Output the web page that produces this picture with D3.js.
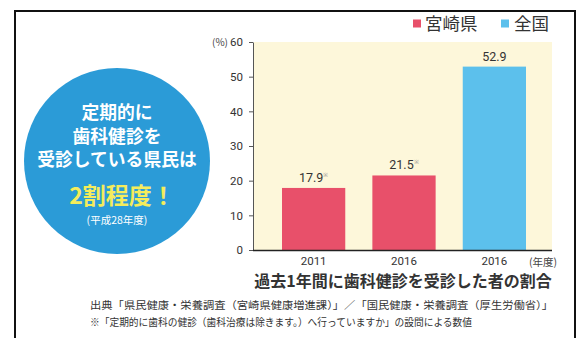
<!DOCTYPE html>
<html>
<head>
<meta charset="utf-8">
<script src="https://cdn.jsdelivr.net/npm/d3@7"></script>
<style>
  html, body { margin: 0; padding: 0; background: #fff; }
  svg { display: block; font-family: "Noto Sans CJK JP", "Noto Sans", sans-serif; }
</style>
</head>
<body>
<svg id="chart" width="576" height="338"></svg>
<script>
// Survey results: share of people who had a dental checkup in the past year
const categories = ["2011", "2016", "2016 "];
const series = ["宮崎県", "宮崎県", "全国"];
const values = [17.9, 21.5, 52.9];
const valueMarks = ["※", "※", ""];
const yTicks = [0, 10, 20, 30, 40, 50, 60];
const legendItems = ["宮崎県", "全国"];
const badgeLines = ["定期的に", "歯科健診を", "受診している県民は"];
const footnotes = [
  "出典「県民健康・栄養調査（宮崎県健康増進課）」／「国民健康・栄養調査（厚生労働省）」",
  "※「定期的に歯科の健診（歯科治療は除きます。）へ行っていますか」の設問による数値"
];

const colors = { "宮崎県": "#e8506a", "全国": "#5cc0ec" };

const svg = d3.select("#chart");

// outer frame
svg.append("path")
  .attr("d", "M15,339 L15,11 L575,11 L575,339")
  .attr("fill", "none").attr("stroke", "#111").attr("stroke-width", 2);

// scales
const x = d3.scaleBand().domain(categories).range([282, 526]).paddingInner(0.3).paddingOuter(0);
const y = d3.scaleLinear().domain([0, 60]).range([250, 42]);

// plot background
svg.append("rect")
  .attr("x", 254).attr("y", y(60))
  .attr("width", 298).attr("height", y(0) - y(60))
  .attr("fill", "#fdf7da");

// bars
svg.append("g").selectAll("rect")
  .data(values)
  .join("rect")
  .attr("x", (d, i) => x(categories[i]))
  .attr("y", d => y(d))
  .attr("width", x.bandwidth())
  .attr("height", d => y(0) - y(d))
  .attr("fill", (d, i) => colors[series[i]]);

// value labels
const vl = svg.append("g").selectAll("text")
  .data(values)
  .join("text")
  .attr("x", (d, i) => x(categories[i]) + x.bandwidth() / 2)
  .attr("y", d => y(d) - 6)
  .attr("text-anchor", "middle")
  .attr("font-size", 12.5)
  .attr("fill", "#333")
  .attr("font-family", "Roboto, 'Liberation Sans', sans-serif");
vl.append("tspan").text(d => d3.format(".1f")(d));
vl.append("tspan")
  .text((d, i) => valueMarks[i])
  .attr("font-size", 6).attr("dy", -5).attr("fill", "#999");

// y axis
const yAxis = svg.append("g")
  .attr("transform", "translate(253,0)")
  .call(d3.axisLeft(y).tickValues(yTicks).tickSize(4).tickSizeOuter(0).tickPadding(6));
yAxis.select(".domain").attr("stroke", "#555").attr("stroke-width", 1);
yAxis.selectAll(".tick line").attr("stroke", "#555");
yAxis.selectAll(".tick text")
  .attr("font-size", 11.5).attr("fill", "#333")
  .attr("font-family", "Roboto, 'Liberation Sans', sans-serif");

svg.append("text")
  .attr("x", 228).attr("y", y(60) + 4)
  .attr("text-anchor", "end")
  .attr("font-size", 10).attr("fill", "#444")
  .text("(%)");

// x axis
const xAxis = svg.append("g")
  .attr("transform", `translate(0,${y(0)})`)
  .call(d3.axisBottom(x).tickSize(0).tickPadding(7));
xAxis.select(".domain").attr("d", `M253,0.5H552`).attr("stroke", "#222").attr("stroke-width", 1.5);
xAxis.selectAll(".tick text")
  .attr("font-size", 11.5).attr("fill", "#333")
  .attr("font-family", "Roboto, 'Liberation Sans', sans-serif");

svg.append("text")
  .attr("x", 543).attr("y", 266)
  .attr("text-anchor", "middle")
  .attr("font-size", 10.5).attr("fill", "#444")
  .text("(年度)");

// legend
const lg = svg.append("g").selectAll("g")
  .data(legendItems)
  .join("g")
  .attr("transform", (d, i) => `translate(${i === 0 ? 413 : 501},0)`);
lg.append("rect")
  .attr("x", 0).attr("y", 19.5).attr("width", 8).attr("height", 8)
  .attr("fill", d => colors[d]);
lg.append("text")
  .attr("x", d => d === "全国" ? 13 : 12).attr("y", 29.5)
  .attr("font-size", 17.5).attr("fill", "#333")
  .text(d => d);

// chart title
svg.append("text")
  .attr("x", 403).attr("y", 287)
  .attr("text-anchor", "middle")
  .attr("font-size", 16).attr("font-weight", "bold").attr("fill", "#333")
  .text("過去1年間に歯科健診を受診した者の割合");

// footnotes
const noteWidths = [463, 382];
svg.append("g").selectAll("text")
  .data(footnotes)
  .join("text")
  .attr("x", 90).attr("y", (d, i) => 309 + i * 17)
  .attr("font-size", 10.5).attr("fill", "#333")
  .attr("textLength", (d, i) => noteWidths[i])
  .attr("lengthAdjust", "spacingAndGlyphs")
  .text(d => d);

// summary badge
svg.append("circle")
  .attr("cx", 117).attr("cy", 161).attr("r", 93)
  .attr("fill", "#2b9bd7");
svg.append("g").selectAll("text")
  .data(badgeLines)
  .join("text")
  .attr("x", 117).attr("y", (d, i) => 119 + i * 23.5)
  .attr("text-anchor", "middle")
  .attr("font-size", 17.8).attr("font-weight", "bold").attr("fill", "#fff")
  .text(d => d);
svg.append("text")
  .attr("x", 122).attr("y", 204)
  .attr("text-anchor", "middle")
  .attr("font-size", 23).attr("font-weight", "bold").attr("fill", "#f4ec5c")
  .text("2割程度！");
svg.append("text")
  .attr("x", 117).attr("y", 224)
  .attr("text-anchor", "middle")
  .attr("font-size", 10.5).attr("fill", "#fff")
  .text("(平成28年度)");
</script>
</body>
</html>
